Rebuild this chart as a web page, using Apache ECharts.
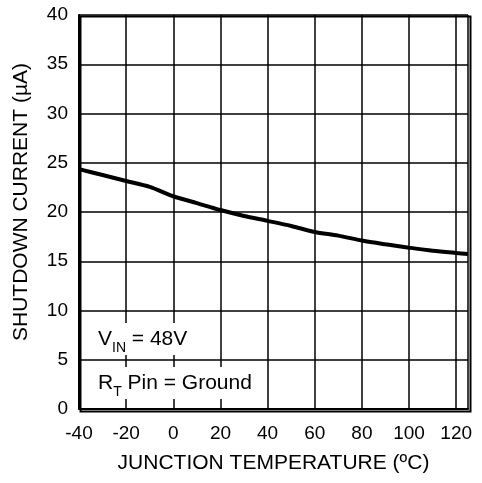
<!DOCTYPE html>
<html><head><meta charset="utf-8">
<script src="https://cdn.jsdelivr.net/npm/echarts@6/dist/echarts.min.js"></script>
<style>html,body{margin:0;padding:0;background:#fff}#c{width:482px;height:483px}</style>
</head><body><div id="c"></div>
<script>
const temps = [-40, -30, -20, -10, 0, 10, 20, 30, 40, 50, 60, 70, 80, 90, 100, 110, 120, 125];
const current = [24.35, 23.75, 23.15, 22.55, 21.6, 20.9, 20.2, 19.6, 19.1, 18.58, 17.97, 17.6, 17.1, 16.72, 16.38, 16.07, 15.84, 15.74];
const xTicks = [-40, -20, 0, 20, 40, 60, 80, 100, 120];
const yTicks = [0, 5, 10, 15, 20, 25, 30, 35, 40];
const xName = 'JUNCTION TEMPERATURE (ºC)';
const yName = 'SHUTDOWN CURRENT (µA)';

const font = 'Arial, "Liberation Sans", sans-serif';
const chart = echarts.init(document.getElementById('c'));
const sub = { fontSize: 14, fontFamily: font, verticalAlign: 'bottom', lineHeight: 32, fill: '#000' };
chart.setOption({
  animation: false,
  backgroundColor: '#fff',
  grid: { left: 79, right: 14, top: 15, bottom: 74, containLabel: false },
  xAxis: {
    type: 'value', min: -40, max: 125, interval: 20,
    name: xName, nameLocation: 'middle', nameGap: 44,
    nameTextStyle: { color: '#000', fontSize: 21, fontFamily: font },
    axisLine: { show: true, onZero: false, lineStyle: { color: '#000', width: 2 } },
    axisTick: { show: false },
    axisLabel: { color: '#000', fontSize: 19, fontFamily: font, margin: 15, showMaxLabel: false,
      formatter: v => xTicks.includes(v) ? String(v) : '' },
    splitLine: { show: true, lineStyle: { color: '#000', width: 1.5 } }
  },
  yAxis: {
    type: 'value', min: 0, max: 40, interval: 5,
    name: yName, nameLocation: 'middle', nameGap: 47,
    nameTextStyle: { color: '#000', fontSize: 21, fontFamily: font, padding: [0, 0, 0, 20] },
    axisLine: { show: true, onZero: false, lineStyle: { color: '#000', width: 2 } },
    axisTick: { show: false },
    axisLabel: { color: '#000', fontSize: 19, fontFamily: font, margin: 11,
      formatter: v => yTicks.includes(v) ? String(v) : '' },
    splitLine: { show: true, lineStyle: { color: '#000', width: 1.5 } }
  },
  series: [{
    type: 'line', data: temps.map((t, i) => [t, current[i]]),
    smooth: 0.3, showSymbol: false, lineStyle: { color: '#000', width: 4 }, z: 3
  }],
  graphic: [
    { type: 'rect', left: 78, top: 14, shape: { width: 390, height: 395 },
      style: { fill: 'none', stroke: '#000', lineWidth: 2 }, z: 10, silent: true },
    { type: 'text', left: 96, top: 323, z: 20,
      style: { text: 'V{s|IN} = 48V', fill: '#000', fontSize: 21, fontFamily: font, lineHeight: 32,
        backgroundColor: '#fff', padding: [0, 2], rich: { s: sub } } },
    { type: 'text', left: 96, top: 367, z: 20,
      style: { text: 'R{s|T} Pin = Ground', fill: '#000', fontSize: 21, fontFamily: font, lineHeight: 32,
        backgroundColor: '#fff', padding: [0, 2], rich: { s: sub } } }
  ]
});
</script></body></html>
